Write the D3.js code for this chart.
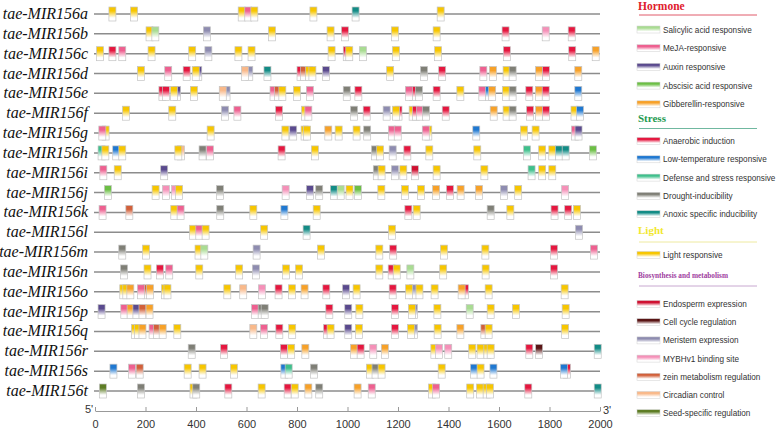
<!DOCTYPE html>
<html><head><meta charset="utf-8">
<script src="https://cdn.jsdelivr.net/npm/d3@7"></script>
<style>body{margin:0;background:#fff}svg{display:block}</style>
</head><body>
<svg id="chart" width="777" height="429"></svg>
<script>
// ---------- DATA ----------
const geneNames = ["tae-MIR156a","tae-MIR156b","tae-MIR156c","tae-MIR156d","tae-MIR156e","tae-MIR156f","tae-MIR156g","tae-MIR156h","tae-MIR156i","tae-MIR156j","tae-MIR156k","tae-MIR156l","tae-MIR156m","tae-MIR156n","tae-MIR156o","tae-MIR156p","tae-MIR156q","tae-MIR156r","tae-MIR156s","tae-MIR156t"];
const tickValues = [0,200,400,600,800,1000,1200,1400,1600,1800,2000];

// element types (legend order)
const hormoneTypes = [["SA","Salicylic acid responsive"],["MeJA","MeJA-responsive"],["Aux","Auxin responsive"],["ABA","Abscisic acid responsive"],["GA","Gibberellin-responsive"]];
const stressTypes = [["Ana","Anaerobic induction"],["LT","Low-temperature responsive"],["Def","Defense and stress responsive"],["Dro","Drought-inducibility"],["Anox","Anoxic specific inducibility"]];
const lightTypes = [["L","Light responsive"]];
const bioTypes = [["Endo","Endosperm expression"],["Cell","Cell cycle regulation"],["Mer","Meristem expression"],["MYB","MYBHv1 binding site"],["Zein","zein metabolism regulation"],["Circ","Circadian control"],["Seed","Seed-specific regulation"]];
const typeColors = {SA:"#a9dc92",MeJA:"#ee6090",Aux:"#5a4a8e",ABA:"#6cbf45",GA:"#f7a128",Ana:"#e5173f",LT:"#1f78d1",Def:"#3fc08c",Dro:"#7f7f76",Anox:"#138c86",L:"#f7c600",Endo:"#cf1030",Cell:"#5a1515",Mer:"#8e8cb0",MYB:"#f590b8",Zein:"#d2603a",Circ:"#f9b98a",Seed:"#5e7d25"};

// elements per gene: [position (bp from 5'), type]
const elA = [[69,"L"],[155,"L"],[581,"L"],[607,"MeJA"],[631,"L"],[865,"L"],[1032,"Anox"],[1369,"L"]];
const elB = [[216,"L"],[239,"SA"],[443,"Mer"],[701,"L"],[933,"L"],[990,"Ana"],[1188,"L"],[1353,"L"],[1626,"Ana"],[1785,"MYB"],[1888,"Ana"]];
const elC = [[20,"L"],[69,"Ana"],[108,"MeJA"],[224,"L"],[385,"L"],[449,"Mer"],[568,"L"],[620,"L"],[937,"L"],[997,"Ana"],[1007,"L"],[1061,"SA"],[1192,"L"],[1359,"L"],[1631,"Ana"],[1890,"Ana"],[1983,"GA"]];
const elD = [[182,"L"],[290,"MeJA"],[363,"Ana"],[409,"Aux"],[399,"L"],[611,"Mer"],[594,"Circ"],[683,"Anox"],[814,"Ana"],[828,"Zein"],[848,"L"],[861,"L"],[915,"Aux"],[1169,"L"],[1303,"Dro"],[1375,"Ana"],[1538,"MeJA"],[1576,"GA"],[1630,"L"],[1654,"Dro"],[1759,"GA"],[1786,"Ana"],[1914,"GA"]];
const elE = [[267,"Ana"],[281,"Ana"],[325,"Aux"],[313,"L"],[392,"L"],[521,"Mer"],[506,"Circ"],[707,"MeJA"],[725,"Zein"],[742,"L"],[800,"L"],[851,"MeJA"],[997,"Dro"],[1043,"Ana"],[1259,"Ana"],[1243,"MeJA"],[1283,"Dro"],[1353,"Ana"],[1447,"L"],[1534,"MeJA"],[1560,"LT"],[1573,"GA"],[1628,"L"],[1654,"Dro"],[1720,"Ana"],[1758,"GA"],[1785,"Ana"],[1914,"LT"]];
const elF = [[123,"L"],[306,"L"],[515,"Mer"],[564,"MeJA"],[729,"Ana"],[832,"L"],[845,"MeJA"],[1026,"Dro"],[1076,"Ana"],[1155,"Mer"],[1202,"Ana"],[1192,"L"],[1258,"L"],[1271,"Ana"],[1287,"MeJA"],[1311,"Dro"],[1389,"Ana"],[1579,"GA"],[1630,"L"],[1654,"Dro"],[1723,"Ana"],[1759,"GA"],[1786,"Ana"],[1899,"L"],[1921,"LT"]];
const elG = [[42,"L"],[29,"MeJA"],[458,"L"],[754,"L"],[785,"Aux"],[830,"L"],[840,"L"],[924,"GA"],[965,"L"],[1036,"L"],[1078,"Dro"],[1176,"MeJA"],[1199,"MeJA"],[1320,"L"],[1310,"MeJA"],[1510,"LT"],[1699,"L"],[1745,"L"],[1901,"MeJA"],[1915,"Aux"]];
const elH = [[26,"Def"],[41,"L"],[84,"LT"],[108,"L"],[340,"Circ"],[330,"L"],[426,"Dro"],[455,"MeJA"],[739,"Ana"],[871,"L"],[1109,"Dro"],[1129,"L"],[1179,"Mer"],[1237,"Ana"],[1324,"L"],[1514,"L"],[1711,"Def"],[1771,"L"],[1811,"L"],[1837,"Anox"],[1864,"Anox"],[1972,"ABA"]];
const elI = [[33,"MeJA"],[90,"L"],[274,"Aux"],[1116,"Dro"],[1135,"L"],[1188,"Mer"],[1221,"L"],[1267,"Endo"],[1353,"L"],[1542,"L"],[1729,"Def"],[1771,"L"],[1811,"L"]];
const elJ = [[51,"ABA"],[240,"L"],[281,"MYB"],[317,"MYB"],[333,"L"],[495,"Dro"],[755,"MYB"],[851,"Aux"],[888,"Dro"],[946,"Anox"],[973,"SA"],[1008,"L"],[1041,"ABA"],[1134,"L"],[1228,"L"],[1291,"L"],[1351,"GA"],[1406,"Ana"],[1448,"GA"],[1521,"GA"],[1620,"Mer"],[1676,"L"],[1862,"MYB"]];
const elK = [[30,"MeJA"],[136,"Zein"],[314,"L"],[339,"MeJA"],[496,"Dro"],[627,"L"],[750,"LT"],[878,"L"],[1241,"Ana"],[1274,"L"],[1567,"Dro"],[1645,"L"],[1820,"Ana"],[1874,"Ana"],[1909,"L"]];
const elL = [[388,"L"],[413,"MeJA"],[438,"L"],[670,"L"],[838,"Anox"],[1176,"L"],[1917,"Mer"]];
const elM = [[108,"Dro"],[202,"L"],[410,"L"],[433,"SA"],[640,"Mer"],[895,"L"],[1126,"L"],[1181,"Ana"],[1382,"L"],[1546,"L"],[1818,"Ana"],[1976,"MeJA"]];
const elN = [[115,"Dro"],[208,"L"],[257,"Ana"],[294,"MeJA"],[413,"L"],[571,"L"],[637,"Mer"],[757,"L"],[808,"L"],[1126,"L"],[1175,"Ana"],[1195,"L"],[1249,"SA"],[1379,"L"],[1547,"L"],[1818,"Ana"]];
const elO = [[112,"L"],[124,"L"],[140,"GA"],[204,"Zein"],[182,"MeJA"],[218,"GA"],[277,"L"],[287,"L"],[524,"L"],[587,"Circ"],[661,"MYB"],[727,"Ana"],[780,"L"],[830,"GA"],[916,"Ana"],[994,"Aux"],[1036,"L"],[1179,"Ana"],[1259,"Mer"],[1244,"L"],[1285,"L"],[1345,"L"],[1465,"Ana"],[1452,"GA"],[1559,"L"],[1860,"L"]];
const elP = [[26,"Aux"],[116,"MeJA"],[141,"GA"],[164,"Aux"],[188,"Zein"],[216,"GA"],[634,"MeJA"],[660,"Dro"],[672,"Dro"],[928,"Ana"],[1003,"Aux"],[1047,"L"],[1188,"Ana"],[1263,"Mer"],[1255,"L"],[1356,"L"],[1484,"SA"],[1567,"L"],[1667,"L"],[1864,"L"]];
const elQ = [[158,"L"],[170,"L"],[188,"GA"],[228,"MeJA"],[245,"Zein"],[268,"GA"],[326,"L"],[627,"Circ"],[669,"MeJA"],[730,"Ana"],[781,"L"],[919,"Ana"],[933,"L"],[1003,"Aux"],[1045,"L"],[1188,"Ana"],[1263,"Mer"],[1252,"L"],[1357,"L"],[1447,"GA"],[1542,"Zein"],[1559,"L"],[1862,"L"]];
const elR = [[383,"Dro"],[511,"Ana"],[748,"Ana"],[777,"L"],[833,"GA"],[1026,"GA"],[1052,"Ana"],[1102,"MYB"],[1148,"GA"],[1344,"L"],[1362,"MYB"],[1399,"MYB"],[1494,"L"],[1527,"L"],[1554,"L"],[1567,"L"],[1720,"Ana"],[1759,"Cell"],[1991,"Anox"]];
const elS = [[73,"LT"],[147,"MeJA"],[177,"Zein"],[367,"L"],[426,"L"],[550,"L"],[750,"LT"],[767,"Def"],[867,"Dro"],[1089,"L"],[1111,"Dro"],[1135,"L"],[1373,"L"],[1501,"LT"],[1527,"L"],[1578,"LT"],[1869,"Ana"],[1857,"LT"]];
const elT = [[31,"Seed"],[182,"Dro"],[390,"L"],[401,"Dro"],[528,"Ana"],[660,"L"],[763,"Ana"],[791,"L"],[845,"GA"],[888,"Dro"],[1040,"GA"],[1096,"MeJA"],[1335,"L"],[1351,"MeJA"],[1486,"L"],[1525,"L"],[1551,"L"],[1564,"L"],[1716,"Ana"],[1991,"Anox"]];
const geneElements = [elA,elB,elC,elD,elE,elF,elG,elH,elI,elJ,elK,elL,elM,elN,elO,elP,elQ,elR,elS,elT];

// ---------- DRAW ----------
const svg = d3.select("#chart");
const defs = svg.append("defs");
Object.entries(typeColors).forEach(([k,c])=>{
  const g = defs.append("linearGradient").attr("id","g_"+k).attr("x1",0).attr("y1",0).attr("x2",0).attr("y2",1);
  g.append("stop").attr("offset","0%").attr("stop-color",c);
  g.append("stop").attr("offset","28%").attr("stop-color",c);
  g.append("stop").attr("offset","78%").attr("stop-color","#ffffff");
  g.append("stop").attr("offset","100%").attr("stop-color","#ffffff");
});

const x = d3.scaleLinear().domain([0,2000]).range([95,600]);
const y = d3.scalePoint().domain(geneNames).range([14,391]);
const boxW = 7, boxH = 14;

const rows = svg.append("g").selectAll("g").data(geneNames).join("g")
  .attr("transform", d=>`translate(0,${y(d)})`);
rows.append("line").attr("x1",94).attr("x2",600).attr("y1",0).attr("y2",0)
  .attr("stroke","#8c8c8c").attr("stroke-width",1.5);
rows.append("text").text(d=>d).attr("x",88).attr("y",5).attr("text-anchor","end")
  .attr("font-family","'Liberation Serif','Times New Roman',serif").attr("font-style","italic")
  .attr("font-size",16).attr("fill","#111");
rows.each(function(d,i){
  d3.select(this).selectAll("rect.el").data(geneElements[i]).join("rect").attr("class","el")
    .attr("x",e=>x(e[0])-boxW/2).attr("y",-boxH/2).attr("width",boxW).attr("height",boxH)
    .attr("fill",e=>`url(#g_${e[1]})`).attr("stroke","#c4c4c4").attr("stroke-width",0.7);
});

// axis
const axisG = svg.append("g").attr("transform","translate(0,411)")
  .call(d3.axisBottom(x).tickValues(tickValues).tickFormat(d3.format("d")).tickSizeInner(-4).tickSizeOuter(0).tickPadding(9));
axisG.select(".domain").attr("stroke","#999");
axisG.selectAll(".tick line").attr("stroke","#999");
axisG.selectAll("text").attr("font-family","'Liberation Sans',Arial,sans-serif").attr("font-size",11).attr("fill","#333");
svg.append("text").text("5'").attr("x",85).attr("y",413).attr("font-family","'Liberation Sans',Arial,sans-serif").attr("font-size",11).attr("fill","#333");
svg.append("text").text("3'").attr("x",603).attr("y",414).attr("font-family","'Liberation Sans',Arial,sans-serif").attr("font-size",11).attr("fill","#333");

// legend
const legend = svg.append("g");
const sections = [
  {title:"Hormone", color:"#e0202c", line:"#e05a6a", size:11.5, titleY:9.5, lineY:15, items:hormoneTypes, firstY:29.5, step:18.7},
  {title:"Stress", color:"#1e9a50", line:"#70b8a0", size:11, titleY:121.5, lineY:128.5, items:stressTypes, firstY:141, step:18.3},
  {title:"Light", color:"#f2e830", line:"#eeeaa0", size:11, titleY:234, lineY:242, items:lightTypes, firstY:255, step:18.3},
  {title:"Biosynthesis and metabolism", color:"#a040a0", line:"#c8a8d0", size:9, titleY:278, lineY:286, items:bioTypes, firstY:304, step:18.2, fit:90}
];
sections.forEach(s=>{
  const t = legend.append("text").text(s.title).attr("x",638).attr("y",s.titleY)
    .attr("font-family","'Liberation Serif','Times New Roman',serif").attr("font-weight","bold")
    .attr("font-size",s.size).attr("fill",s.color);
  if (s.fit) t.attr("textLength",s.fit).attr("lengthAdjust","spacingAndGlyphs");
  legend.append("line").attr("x1",639).attr("x2",757).attr("y1",s.lineY).attr("y2",s.lineY).attr("stroke",s.line).attr("stroke-width",1);
  s.items.forEach((it,j)=>{
    const yy = s.firstY + j*s.step;
    legend.append("rect").attr("x",637).attr("y",yy-3.5).attr("width",23).attr("height",7)
      .attr("fill",`url(#g_${it[0]})`).attr("stroke","#d0d0d0").attr("stroke-width",0.5);
    legend.append("text").text(it[1]).attr("x",663).attr("y",yy+3)
      .attr("font-family","'Liberation Sans',Arial,sans-serif").attr("font-size",8.2).attr("fill","#333");
  });
});
</script>
</body></html>
